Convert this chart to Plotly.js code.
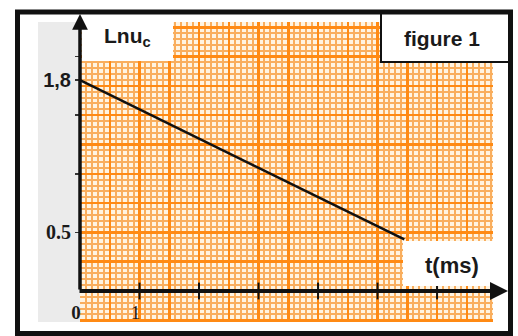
<!DOCTYPE html>
<html>
<head>
<meta charset="utf-8">
<script src="https://cdn.plot.ly/plotly-3.0.1.min.js"></script>
<style>html,body{margin:0;padding:0;background:#fff;}#chart{width:518px;height:336px;}</style>
</head>
<body>
<div id="chart"></div>
<script>
// Data
const timeMs = [0, 5.45];          // t (ms)
const lnUc   = [1.8, 0.44];        // Ln u_c
const xTickVals   = [0, 1, 2, 3, 4, 5, 6];
const xTickLabels = ['0', '1', '', '', '', '', ''];
const yTickVals   = [0.5, 1.0, 1.5, 1.8, 2.0];
const yTickLabels = ['0.5', '', '', '1,8', ''];
const yAxisTitle  = 'Lnu<sub>c</sub>';
const xAxisTitle  = 't(ms)';
const figureLabel = 'figure 1';

// layout geometry (pixels)
const L = 80, R = 25, T = 22, B = 14, W = 518, H = 336;
const pw = W - L - R, ph = H - T - B;
const px = p => (p - L) / pw;
const py = p => (H - B - p) / ph;

const xRange = [0, 6.94];
const yRange = [-0.2645, 2.295];

const SANS = 'Liberation Sans, Arial, sans-serif';
const SERIF = 'Liberation Serif, Times New Roman, serif';

const xText = xTickLabels.map((s, i) => i === 0 ? '<b>' + s + '</b>' : s);
const yText = yTickLabels.map(s => s.indexOf(',') >= 0
  ? '<span style="font-family:Liberation Sans, Arial, sans-serif">' + s + '</span>' : s);

const traces = [
  {
    x: timeMs, y: lnUc, xaxis: 'x', yaxis: 'y',
    type: 'scatter', mode: 'lines',
    line: {color: '#111', width: 2.5},
    hoverinfo: 'skip', showlegend: false
  },
  {
    x: xTickVals.slice(1), y: xTickVals.slice(1).map(() => 0),
    xaxis: 'x2', yaxis: 'y2', type: 'scatter', mode: 'markers',
    marker: {symbol: 'line-ns', size: 12, line: {color: '#111', width: 2}},
    hoverinfo: 'skip', showlegend: false, cliponaxis: false
  }
];

const gridAxis = (range, dtick, mdtick) => ({
  range: range, tickmode: 'linear', tick0: 0, dtick: dtick,
  showgrid: true, gridcolor: '#ff8a14', gridwidth: 2.5,
  minor: {tick0: 0, dtick: mdtick, showgrid: true, gridcolor: '#f9ae5e', gridwidth: 2},
  showticklabels: false, ticks: '', zeroline: false, showline: false, fixedrange: true
});

const ann = (x, y, text, size) => ({
  xref: 'paper', yref: 'paper', x: px(x), y: py(y), xanchor: 'center', yanchor: 'middle',
  text: '<b>' + text + '</b>', showarrow: false,
  font: {family: SANS, size: size, color: '#1a1a1a'}
});

const layout = {
  width: W, height: H,
  margin: {l: L, r: R, t: T, b: B, pad: 0},
  paper_bgcolor: '#ffffff',
  plot_bgcolor: '#fff4e2',
  showlegend: false,
  xaxis: gridAxis(xRange, 0.5, 0.1),
  yaxis: gridAxis(yRange, 0.25, 0.05),
  xaxis2: {
    overlaying: 'x', range: xRange, anchor: 'free', position: (H - B - 291) / ph,
    side: 'bottom', tickmode: 'array', tickvals: xTickVals, ticktext: xText,
    ticks: '', showgrid: false, zeroline: false, showline: false,
    tickfont: {family: SERIF, size: 19, color: '#1a1a1a'},
    ticklabelstandoff: 8, ticklabelshift: -4, fixedrange: true
  },
  yaxis2: {
    overlaying: 'y', range: yRange, anchor: 'free', position: 0, side: 'left',
    tickmode: 'array', tickvals: yTickVals, ticktext: yText.map(s => '<b>' + s + '</b>'),
    ticks: 'outside', ticklen: 5, tickwidth: 1.5, tickcolor: '#333',
    showgrid: false, zeroline: false, showline: false,
    tickfont: {family: SERIF, size: 20, color: '#1a1a1a'}, fixedrange: true
  },
  shapes: [
    {type: 'rect', xref: 'paper', yref: 'paper', x0: px(38), x1: px(80), y0: py(322), y1: py(22),
     fillcolor: '#ebebeb', line: {width: 0}, layer: 'below'},
    {type: 'rect', xref: 'paper', yref: 'paper', x0: px(82), x1: px(173), y0: py(61), y1: py(13),
     fillcolor: '#ffffff', line: {width: 0}, layer: 'above'},
    {type: 'rect', xref: 'paper', yref: 'paper', x0: px(403), x1: px(509), y0: py(286), y1: py(241),
     fillcolor: '#ffffff', line: {width: 0}, layer: 'above'},
    {type: 'rect', xref: 'paper', yref: 'paper', x0: px(381), x1: px(509), y0: py(62), y1: py(13),
     fillcolor: '#ffffff', line: {width: 2, color: '#111'}, layer: 'above'},
    {type: 'rect', xref: 'paper', yref: 'paper', x0: px(17.5), x1: px(510.5), y0: py(333.5), y1: py(12),
     fillcolor: 'rgba(0,0,0,0)', line: {width: 5, color: '#111'}, layer: 'above'}
  ],
  annotations: [
    {xref: 'paper', yref: 'paper', x: 0, y: py(14), ax: 0, ay: 291 - 14, axref: 'pixel', ayref: 'pixel',
     text: '', showarrow: true, arrowhead: 2, arrowsize: 0.9, arrowwidth: 3.5, arrowcolor: '#111', standoff: 0},
    {xref: 'paper', yref: 'y2', x: px(508), y: 0, ax: -(508 - 78), ay: 0, axref: 'pixel', ayref: 'pixel',
     text: '', showarrow: true, arrowhead: 2, arrowsize: 0.9, arrowwidth: 4, arrowcolor: '#111', standoff: 0},
    ann(127, 37, yAxisTitle, 21),
    ann(442, 38, figureLabel, 21),
    ann(452, 265, xAxisTitle, 22)
  ]
};

Plotly.newPlot('chart', traces, layout, {staticPlot: true, displayModeBar: false});
</script>
</body>
</html>
